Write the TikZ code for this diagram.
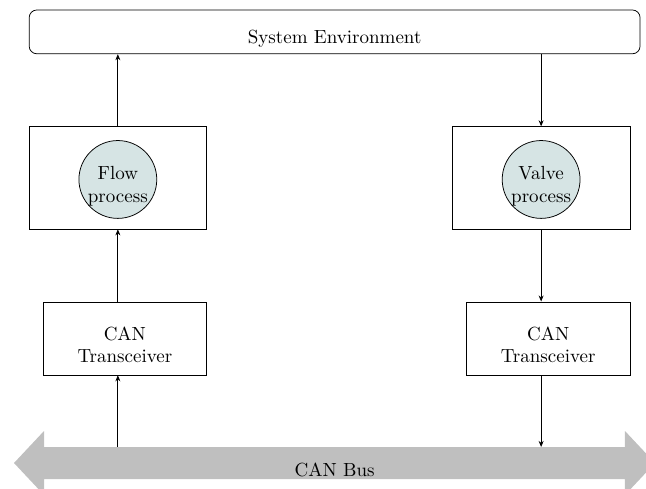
\documentclass[tikz,border=0pt]{standalone}
\usetikzlibrary{arrows.meta}

\definecolor{procfill}{RGB}{214,228,228}
\definecolor{busgray}{RGB}{191,191,191}

\tikzset{
	box/.style={draw, inner sep=0pt},
	proc/.style={draw, circle, fill=procfill, inner sep=0pt, minimum size=1.44cm},
	txt/.style={label={[yshift=-3.4pt, align=center]center:#1}},
	link/.style={-{Stealth[length=3.2pt, width=2.6pt]}}
}

\begin{document}
\begin{tikzpicture}
	\useasboundingbox (0, 0) rectangle (11.95, -9.045);

	% environment on top
	\node[box, rounded corners=4pt, minimum width=11.3cm, minimum height=0.81cm,
		txt={System Environment}] (env) at (6.19, -0.59) {};

	% process boxes
	\node[box, minimum width=3.29cm, minimum height=1.89cm] (flowbox) at (2.18, -3.29) {};
	\node[proc, txt={Flow\\process}] (flow) at (2.18, -3.32) {};

	\node[box, minimum width=3.29cm, minimum height=1.89cm] (valvebox) at (10.01, -3.29) {};
	\node[proc, txt={Valve\\process}] (valve) at (10.01, -3.32) {};

	% transceivers
	\node[box, minimum width=3.03cm, minimum height=1.35cm,
		txt={CAN\\Transceiver}] (flowcan) at (2.31, -6.26) {};
	\node[box, minimum width=3.03cm, minimum height=1.35cm,
		txt={CAN\\Transceiver}] (valvecan) at (10.14, -6.26) {};

	% bus
	\fill[busgray] (0.259, -8.565) -- (0.814, -7.973) -- (0.814, -8.269)
		-- (11.561, -8.269) -- (11.561, -7.973) -- (12.116, -8.565)
		-- (11.561, -9.157) -- (11.561, -8.861) -- (0.814, -8.861)
		-- (0.814, -9.157) -- cycle;
	\node (buslabel) at (6.19, -8.694) {CAN Bus};
	\coordinate (busL) at (2.18, -8.269);
	\coordinate (busR) at (10.01, -8.269);

	% left side goes up
	\draw[link] (busL) -- (busL |- flowcan.south);
	\draw[link] (flowbox.south |- flowcan.north) -- (flowbox.south);
	\draw[link] (flowbox.north) -- (flowbox.north |- env.south);

	% right side goes down
	\draw[link] (valvebox.north |- env.south) -- (valvebox.north);
	\draw[link] (valvebox.south) -- (valvebox.south |- valvecan.north);
	\draw[link] (valvebox.south |- valvecan.south) -- (busR);
\end{tikzpicture}
\end{document}
